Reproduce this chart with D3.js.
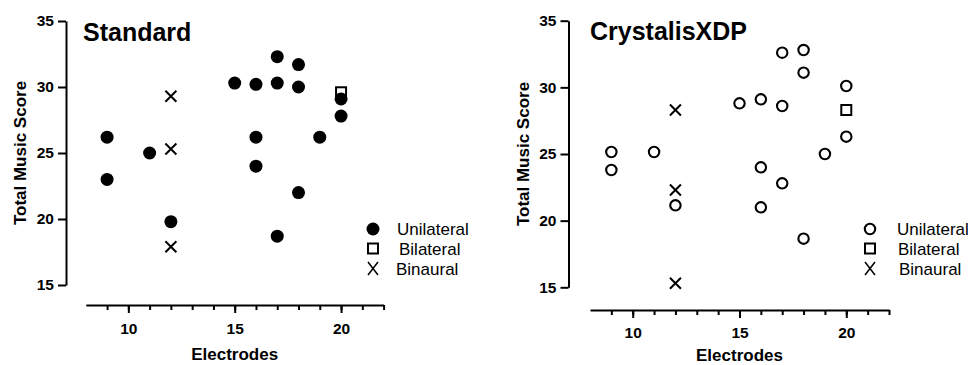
<!DOCTYPE html>
<html>
<head>
<meta charset="utf-8">
<script src="https://cdn.jsdelivr.net/npm/d3@7"></script>
<style>
  body { margin: 0; background: #fff; }
  text { font-family: "Liberation Sans", Arial, sans-serif; fill: #000; }
</style>
</head>
<body>
<div class="container"></div>
<script>
// data: [electrodes, total music score]
const standardUnilateral = [[9,26.2],[9,23.0],[11,25.0],[12,19.8],[15,30.3],[16,30.2],[16,26.2],[16,24.0],
  [17,32.3],[17,30.3],[17,18.7],[18,31.7],[18,30.0],[18,22.0],[19,26.2],[20,29.1],[20,27.8]];
const standardBilateral = [[20,29.6]];
const standardBinaural = [[12,29.3],[12,25.3],[12,17.9]];

const crystalisUnilateral = [[9,25.15],[9,23.8],[11,25.15],[12,21.15],[15,28.8],[16,29.1],[16,24.0],[16,21.0],
  [17,32.6],[17,28.6],[17,22.8],[18,32.8],[18,31.1],[18,18.65],[19,25.0],[20,30.1],[20,26.3]];
const crystalisBilateral = [[20,28.3]];
const crystalisBinaural = [[12,28.3],[12,22.3],[12,15.3]];

const xDomain = [8, 22];
const yDomain = [15, 35];
const xMajorTicks = [10, 15, 20];
const xMinorTicks = d3.range(9, 23);
const yTicks = [15, 20, 25, 30, 35];
const legendLabels = ['Unilateral', 'Bilateral', 'Binaural'];

const svg = d3.select('.container')
  .append('svg')
  .attr('width', 968)
  .attr('height', 365);

function drawCircle(g, x, y, filled){
  g.append('circle')
    .attr('cx', x).attr('cy', y)
    .attr('r', filled ? 6.5 : 5.2)
    .attr('fill', filled ? '#000' : '#fff')
    .attr('stroke', '#000')
    .attr('stroke-width', filled ? 0 : 2.1);
}
function drawSquare(g, x, y){
  g.append('rect')
    .attr('x', x - 5).attr('y', y - 5)
    .attr('width', 10).attr('height', 10)
    .attr('fill', '#fff')
    .attr('stroke', '#000')
    .attr('stroke-width', 2);
}
function drawCross(g, x, y, w, h, sw){
  g.append('path')
    .attr('d', `M${x-w/2},${y-h/2}L${x+w/2},${y+h/2}M${x+w/2},${y-h/2}L${x-w/2},${y+h/2}`)
    .attr('stroke', '#000')
    .attr('stroke-width', sw)
    .attr('fill', 'none');
}

function panel(p){
  const g = svg.append('g');
  const x = d3.scaleLinear().domain(xDomain).range(p.xRange);
  const y = d3.scaleLinear().domain(yDomain).range(p.yRange);

  //y axis
  const ya = g.append('g')
    .attr('transform', `translate(${p.yAxisX},0)`)
    .call(d3.axisLeft(y).tickValues(yTicks).tickSize(8).tickSizeOuter(0).tickPadding(4));
  //x axis minor + major
  const xa1 = g.append('g')
    .attr('transform', `translate(0,${p.xAxisY})`)
    .call(d3.axisBottom(x).tickValues(xMinorTicks).tickSize(5).tickSizeOuter(0).tickFormat(''));
  const xa2 = g.append('g')
    .attr('transform', `translate(0,${p.xAxisY})`)
    .call(d3.axisBottom(x).tickValues(xMajorTicks).tickSize(8).tickSizeOuter(0).tickPadding(p.xPad));
  xa2.select('.domain').remove();

  [ya, xa1, xa2].forEach(a => {
    a.selectAll('path, line').attr('stroke', '#000').attr('stroke-width', 2);
    a.selectAll('text')
      .style('font-family', '"Liberation Sans", Arial, sans-serif')
      .style('font-size', '15.5px')
      .style('font-weight', 'bold')
      .attr('fill', '#000');
  });

  //titles
  g.append('text')
    .attr('x', p.titleX).attr('y', p.titleY)
    .style('font-size', '25px').style('font-weight', 'bold')
    .text(p.title);
  g.append('text')
    .attr('x', x(15)).attr('y', p.xTitleY)
    .attr('text-anchor', 'middle')
    .style('font-size', '17px').style('font-weight', 'bold')
    .text('Electrodes');
  g.append('text')
    .attr('transform', `translate(${p.yTitleX},${y(25)}) rotate(-90)`)
    .attr('text-anchor', 'middle')
    .style('font-size', '17px').style('font-weight', 'bold')
    .text('Total Music Score');

  //marks
  const m = g.append('g');
  p.bilateral.forEach(d => drawSquare(m, x(d[0]), y(d[1])));
  p.unilateral.forEach(d => drawCircle(m, x(d[0]), y(d[1]), p.filled));
  p.binaural.forEach(d => drawCross(m, x(d[0]), y(d[1]), 11, 11, 2));

  //legend
  const lg = g.append('g');
  const ly = [229, 248.5, 268.5];
  drawCircle(lg, p.legendX, ly[0], p.filled);
  drawSquare(lg, p.legendX, ly[1]);
  drawCross(lg, p.legendX, ly[2], 10, 13, 1.5);
  legendLabels.forEach((t, i) => {
    lg.append('text')
      .attr('x', p.legendTextX[i]).attr('y', ly[i] + 6)
      .style('font-size', '17px')
      .text(t);
  });
}

panel({
  title: 'Standard', titleX: 83, titleY: 41,
  xRange: [85.8, 383.6], yRange: [285, 21],
  yAxisX: 66, xAxisY: 305, xPad: 10,
  xTitleY: 360, yTitleX: 26,
  filled: true,
  unilateral: standardUnilateral, bilateral: standardBilateral, binaural: standardBinaural,
  legendX: 373, legendTextX: [397, 399, 396]
});

panel({
  title: 'CrystalisXDP', titleX: 590, titleY: 40,
  xRange: [590, 889], yRange: [287.3, 20.7],
  yAxisX: 568.5, xAxisY: 310, xPad: 9,
  xTitleY: 361, yTitleX: 529,
  filled: false,
  unilateral: crystalisUnilateral, bilateral: crystalisBilateral, binaural: crystalisBinaural,
  legendX: 870, legendTextX: [897, 898, 899]
});
</script>
</body>
</html>
